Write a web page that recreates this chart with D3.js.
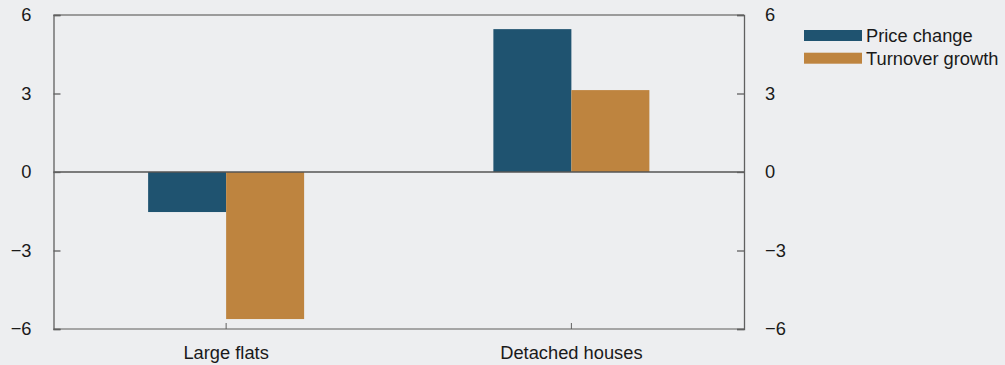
<!DOCTYPE html>
<html><head><meta charset="utf-8">
<script src="https://cdn.jsdelivr.net/npm/d3@7"></script>
<style>
html,body{margin:0;padding:0;background:#edeef0;}
svg{display:block;font-family:"Liberation Sans",Arial,sans-serif;}
</style></head>
<body>
<svg id="chart" width="1005" height="365"></svg>
<script>
const categories = ["Large flats", "Detached houses"];
const seriesNames = ["Price change", "Turnover growth"];
const priceChange = [-1.53, 5.46];
const turnoverGrowth = [-5.62, 3.13];
const yTicks = [-6, -3, 0, 3, 6];
const colors = ["#1f5370", "#be843f"];

const FS = 18.3;
const svg = d3.select("#chart");
const W = 1005, H = 365;
svg.append("rect").attr("width", W).attr("height", H).attr("fill", "#edeef0");

const L = 53.5, R = 744, T = 15, B = 329;
const y = d3.scaleLinear().domain([-6, 6]).range([B, T]);
const x0 = d3.scaleBand().domain(categories).range([L, R]).padding(0);
const groupW = 156;
const x1 = d3.scaleBand().domain(seriesNames).range([0, groupW]).padding(0);

const data = categories.map((c, i) => ({cat: c, vals: [priceChange[i], turnoverGrowth[i]]}));

// bars
const g = svg.append("g");
data.forEach(d => {
  d.vals.forEach((v, j) => {
    const bx = x0(d.cat) + x0.bandwidth() / 2 - groupW / 2 + x1(seriesNames[j]);
    g.append("rect")
      .attr("x", bx)
      .attr("width", x1.bandwidth())
      .attr("y", Math.min(y(v), y(0)))
      .attr("height", Math.abs(y(v) - y(0)))
      .attr("fill", colors[j]);
  });
});

// frame: top & bottom lines
svg.append("line").attr("x1", L).attr("x2", R).attr("y1", T).attr("y2", T)
  .attr("stroke", "#7f7f7f").attr("stroke-width", 1.5);
svg.append("line").attr("x1", L).attr("x2", R).attr("y1", B).attr("y2", B)
  .attr("stroke", "#8c8c8c").attr("stroke-width", 1.5);
// zero line
svg.append("line").attr("x1", L).attr("x2", R).attr("y1", y(0)).attr("y2", y(0))
  .attr("stroke", "#555").attr("stroke-width", 1.5);

const fmt = d => d < 0 ? "\u2212" + Math.abs(d) : d;
// left axis
const leftAxis = d3.axisLeft(y).tickValues(yTicks).tickSize(-7).tickPadding(22).tickFormat(fmt);
const la = svg.append("g").attr("transform", `translate(${L},0)`).call(leftAxis);
// right axis
const rightAxis = d3.axisRight(y).tickValues(yTicks).tickSize(-7).tickPadding(21).tickFormat(fmt);
const ra = svg.append("g").attr("transform", `translate(${R},0)`).call(rightAxis);
[la, ra].forEach(a => {
  a.select(".domain").attr("stroke", "#606060").attr("stroke-width", 1.3);
  a.selectAll(".tick line").attr("stroke", "#606060").attr("stroke-width", 1.3);
  a.selectAll(".tick text").attr("font-size", FS).attr("fill", "#1a1a1a")
    .attr("font-family", "Liberation Sans, Arial, sans-serif");
});
la.selectAll(".tick text").attr("x", -22);

// bottom axis
const bottomAxis = d3.axisBottom(x0).tickSize(-6).tickPadding(17);
const ba = svg.append("g").attr("transform", `translate(0,${B})`).call(bottomAxis);
ba.select(".domain").remove();
ba.selectAll(".tick line").attr("stroke", "#606060").attr("stroke-width", 1);
ba.selectAll(".tick text").attr("font-size", FS).attr("fill", "#1a1a1a")
  .attr("font-family", "Liberation Sans, Arial, sans-serif");

// legend
const lg = svg.append("g").attr("transform", "translate(804,30)");
seriesNames.forEach((s, i) => {
  const row = lg.append("g").attr("transform", `translate(0,${i * 22.7})`);
  row.append("rect").attr("width", 58).attr("height", 11).attr("fill", colors[i]);
  row.append("text").attr("x", 62).attr("y", 12.3).attr("font-size", FS)
    .attr("fill", "#1a1a1a").text(s);
});
</script>
</body></html>
